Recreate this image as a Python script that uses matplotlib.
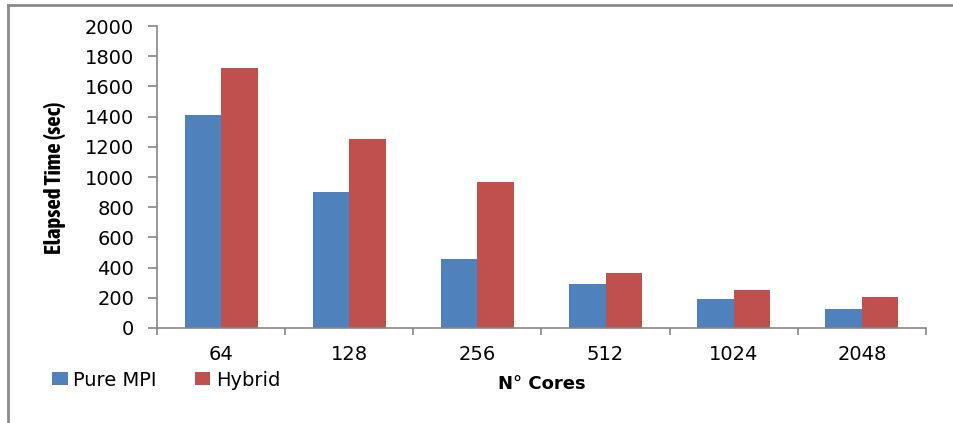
import numpy as np
import matplotlib
matplotlib.use("Agg")
import matplotlib.pyplot as plt
from matplotlib.lines import Line2D
from matplotlib import font_manager
import matplotlib.patheffects as pe

# values
cores = ["64", "128", "256", "512", "1024", "2048"]
pure_mpi = [1410, 900, 460, 292, 192, 126]
hybrid = [1722, 1255, 970, 364, 252, 206]

blue = "#4F81BD"
red = "#C0504D"
grey = "#868686"


def is_bold(f):
    wt = f.weight
    if isinstance(wt, str):
        return wt.lower() in ("bold", "heavy", "black", "extra bold", "semibold", "demibold")
    return wt >= 600


# narrow face for the y label, bold if there is one
fonts = font_manager.fontManager.ttflist
narrow = [f for f in fonts if "Narrow" in f.name or "Condensed" in f.name]
narrow_bold = sorted({f.name for f in narrow if is_bold(f)})
narrow_any = sorted({f.name for f in narrow})

fig = plt.figure(figsize=(9.54, 4.23), dpi=100)
ax = fig.add_axes([0.1646, 0.2246, 0.806, 0.7139])

x = np.arange(len(cores))
w = 0.285
ax.bar(x - w / 2, pure_mpi, w, color=blue, label="Pure MPI")
ax.bar(x + w / 2, hybrid, w, color=red, label="Hybrid")

ax.set_xlim(-0.5, len(cores) - 0.5)
ax.set_ylim(0, 2000)
ax.set_yticks(range(0, 2001, 200))

# ticks between categories, labels centred under groups
ax.set_xticks(np.arange(-0.5, len(cores), 1.0))
ax.set_xticklabels([])
ax.set_xticks(x, minor=True)
ax.set_xticklabels(cores, minor=True)
ax.tick_params(axis="x", which="major", direction="out", length=5, width=1.2, color=grey)
ax.tick_params(axis="x", which="minor", length=0, pad=12, labelsize=14)
ax.tick_params(axis="y", direction="out", length=6.5, width=1.2, color=grey, pad=10, labelsize=14)

for s in ["top", "right"]:
    ax.spines[s].set_visible(False)
for s in ["left", "bottom"]:
    ax.spines[s].set_color(grey)
    ax.spines[s].set_linewidth(1.2)

ylab_pos = (0.058, 1 - 178 / 423)
if narrow_bold:
    fig.text(*ylab_pos, "Elapsed Time (sec)", rotation=90, ha="center", va="center",
             fontsize=16.5, fontweight="bold", family=[narrow_bold[0], "DejaVu Sans"])
elif narrow_any:
    fig.text(*ylab_pos, "Elapsed Time (sec)", rotation=90, ha="center", va="center",
             fontsize=15, family=[narrow_any[0], "DejaVu Sans"],
             path_effects=[pe.withStroke(linewidth=1.0, foreground="black")])
else:
    fig.text(*ylab_pos, "Elapsed Time (sec)", rotation=90, ha="center", va="center",
             fontsize=13.5, fontweight="bold", family=["Liberation Sans", "DejaVu Sans"])
fig.text(542 / 954, 1 - 384 / 423, "N° Cores", ha="center", va="center",
         fontsize=13, fontweight="bold")

ax.legend(loc="center left", bbox_to_anchor=(52 / 954, 1 - 380 / 423),
          bbox_transform=fig.transFigure, ncol=2, frameon=False, fontsize=14,
          handlelength=0.8, handleheight=0.65, handletextpad=0.3,
          columnspacing=1.95, borderpad=0, borderaxespad=0)

# partial outer frame
fig.add_artist(Line2D([8 / 954, 8 / 954], [0.005, 1 - 5 / 423], transform=fig.transFigure,
                      color="#8a8a8a", lw=2))
fig.add_artist(Line2D([8 / 954, 1.0], [1 - 5 / 423, 1 - 5 / 423], transform=fig.transFigure,
                      color="#8a8a8a", lw=2))

fig.savefig("out.png", dpi=100)
